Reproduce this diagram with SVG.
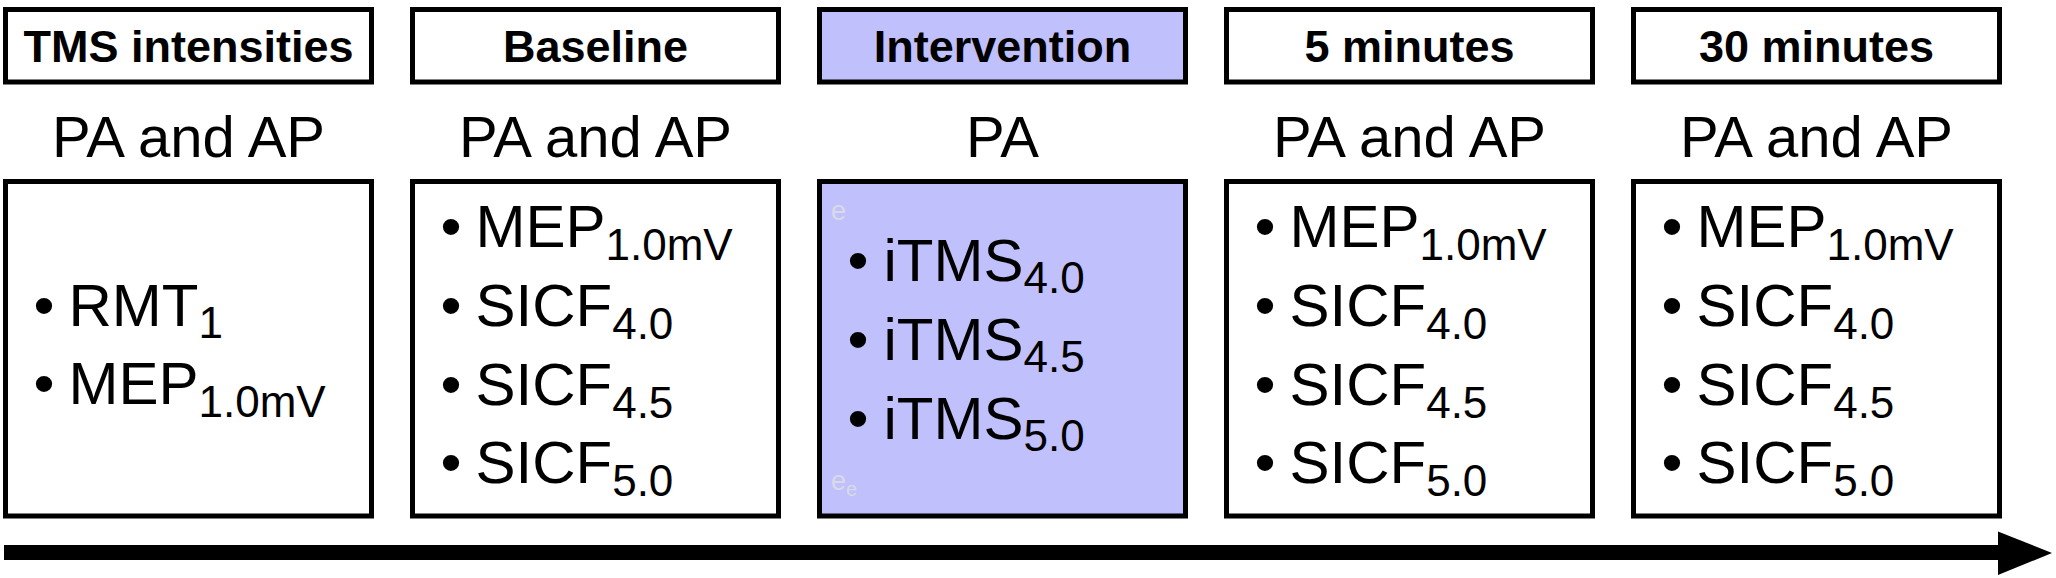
<svg xmlns="http://www.w3.org/2000/svg" width="2056" height="578" viewBox="0 0 2056 578">
<style>
text{font-family:"Liberation Sans",Arial,Helvetica,sans-serif;fill:#000}
.box{fill:#fff;stroke:#000;stroke-width:5}
.hl{fill:#c0c0fc}
.hdr{font-size:45px;font-weight:bold;text-anchor:middle}
.dir{font-size:58px;text-anchor:middle}
.item{font-size:60px}
.sub{font-size:44px}
.ghost{fill:#dadae6;font-size:27px}
</style>
<rect width="2056" height="578" fill="#fff"/>
<g id="tms">
<rect class="box" x="5.5" y="9.5" width="366" height="72.5"/>
<text class="hdr" x="188.5" y="61.5">TMS intensities</text>
<text class="dir" x="188.5" y="156.5">PA and AP</text>
<rect class="box" x="5.5" y="181.5" width="366" height="334.5"/>
<text class="item" x="33.5" y="326">•</text>
<text class="item" x="68.5" y="326">RMT<tspan class="sub" dy="12">1</tspan></text>
<text class="item" x="33.5" y="404">•</text>
<text class="item" x="68.5" y="404">MEP<tspan class="sub" dy="13">1.0mV</tspan></text>
</g>
<g id="baseline">
<rect class="box" x="412.5" y="9.5" width="366" height="72.5"/>
<text class="hdr" x="595.5" y="61.5">Baseline</text>
<text class="dir" x="595.5" y="156.5">PA and AP</text>
<rect class="box" x="412.5" y="181.5" width="366" height="334.5"/>
<text class="item" x="440.5" y="247">•</text>
<text class="item" x="475.5" y="247">MEP<tspan class="sub" dy="13">1.0mV</tspan></text>
<text class="item" x="440.5" y="326">•</text>
<text class="item" x="475.5" y="326">SICF<tspan class="sub" dy="13">4.0</tspan></text>
<text class="item" x="440.5" y="404.5">•</text>
<text class="item" x="475.5" y="404.5">SICF<tspan class="sub" dy="13">4.5</tspan></text>
<text class="item" x="440.5" y="483">•</text>
<text class="item" x="475.5" y="483">SICF<tspan class="sub" dy="13">5.0</tspan></text>
</g>
<g id="intervention">
<rect class="box hl" x="819.5" y="9.5" width="366" height="72.5"/>
<text class="hdr" x="1002.5" y="61.5">Intervention</text>
<text class="dir" x="1002.5" y="156.5">PA</text>
<rect class="box hl" x="819.5" y="181.5" width="366" height="334.5"/>
<text class="ghost" x="831" y="220">e</text>
<text class="ghost" x="831" y="490">e<tspan dy="6" font-size="20">e</tspan></text>
<text class="item" x="847.5" y="281">•</text>
<text class="item" x="883.5" y="281">iTMS<tspan class="sub" dy="12">4.0</tspan></text>
<text class="item" x="847.5" y="359.5">•</text>
<text class="item" x="883.5" y="359.5">iTMS<tspan class="sub" dy="12">4.5</tspan></text>
<text class="item" x="847.5" y="438.5">•</text>
<text class="item" x="883.5" y="438.5">iTMS<tspan class="sub" dy="12">5.0</tspan></text>
</g>
<g id="min5">
<rect class="box" x="1226.5" y="9.5" width="366" height="72.5"/>
<text class="hdr" x="1409.5" y="61.5">5 minutes</text>
<text class="dir" x="1409.5" y="156.5">PA and AP</text>
<rect class="box" x="1226.5" y="181.5" width="366" height="334.5"/>
<text class="item" x="1254.5" y="247">•</text>
<text class="item" x="1289.5" y="247">MEP<tspan class="sub" dy="13">1.0mV</tspan></text>
<text class="item" x="1254.5" y="326">•</text>
<text class="item" x="1289.5" y="326">SICF<tspan class="sub" dy="13">4.0</tspan></text>
<text class="item" x="1254.5" y="404.5">•</text>
<text class="item" x="1289.5" y="404.5">SICF<tspan class="sub" dy="13">4.5</tspan></text>
<text class="item" x="1254.5" y="483">•</text>
<text class="item" x="1289.5" y="483">SICF<tspan class="sub" dy="13">5.0</tspan></text>
</g>
<g id="min30">
<rect class="box" x="1633.5" y="9.5" width="366" height="72.5"/>
<text class="hdr" x="1816.5" y="61.5">30 minutes</text>
<text class="dir" x="1816.5" y="156.5">PA and AP</text>
<rect class="box" x="1633.5" y="181.5" width="366" height="334.5"/>
<text class="item" x="1661.5" y="247">•</text>
<text class="item" x="1696.5" y="247">MEP<tspan class="sub" dy="13">1.0mV</tspan></text>
<text class="item" x="1661.5" y="326">•</text>
<text class="item" x="1696.5" y="326">SICF<tspan class="sub" dy="13">4.0</tspan></text>
<text class="item" x="1661.5" y="404.5">•</text>
<text class="item" x="1696.5" y="404.5">SICF<tspan class="sub" dy="13">4.5</tspan></text>
<text class="item" x="1661.5" y="483">•</text>
<text class="item" x="1696.5" y="483">SICF<tspan class="sub" dy="13">5.0</tspan></text>
</g>
<g id="connectors">
<rect x="4" y="545" width="1996" height="15" fill="#000"/>
<polygon points="1998,531.5 2052,553 1998,575" fill="#000"/>
</g>
</svg>
